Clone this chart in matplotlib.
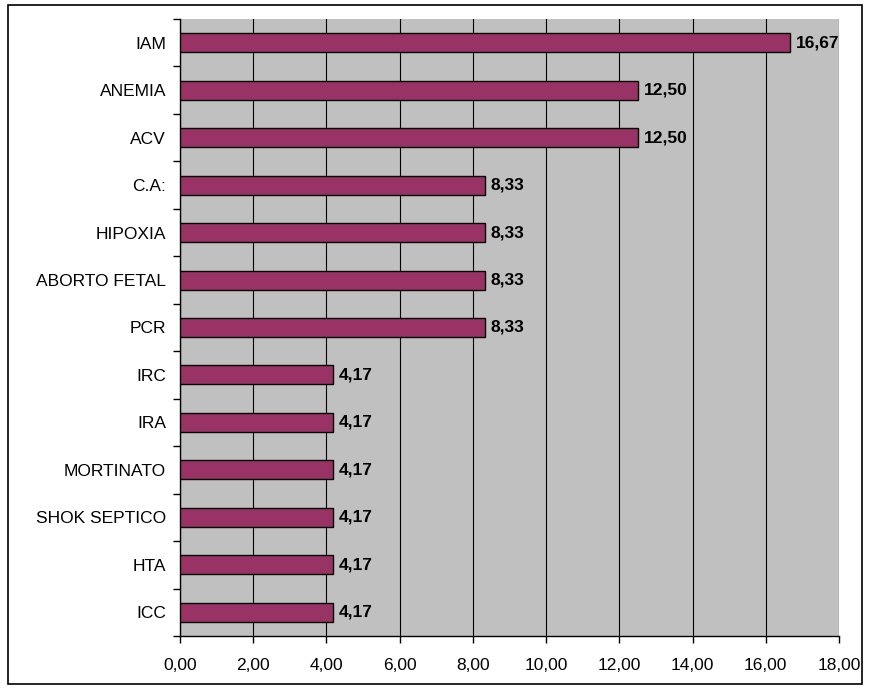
import matplotlib
matplotlib.use("Agg")
import matplotlib.pyplot as plt
from matplotlib.patches import Rectangle
import numpy as np

categories = ["IAM", "ANEMIA", "ACV", "C.A:", "HIPOXIA", "ABORTO FETAL", "PCR",
              "IRC", "IRA", "MORTINATO", "SHOK SEPTICO", "HTA", "ICC"]
values = [16.67, 12.50, 12.50, 8.33, 8.33, 8.33, 8.33,
          4.17, 4.17, 4.17, 4.17, 4.17, 4.17]
xticks = [0, 2, 4, 6, 8, 10, 12, 14, 16, 18]

plt.rcParams['font.family'] = ['Liberation Sans', 'DejaVu Sans']

fig = plt.figure(figsize=(8.7, 6.91), dpi=100)
ax = fig.add_axes([180/870, 1-636/691, (839-180)/870, (636-19)/691])
ax.set_facecolor('#C0C0C0')

n = len(categories)
ypos = np.arange(n)[::-1]
ax.barh(ypos, values, height=0.4, color='#993366', edgecolor='black', linewidth=1, zorder=3)
for y, v in zip(ypos, values):
    ax.text(v + 0.16, y, f"{v:.2f}".replace('.', ','), va='center', ha='left',
            fontsize=12.5, fontweight='bold', zorder=4)

ax.set_xlim(0, 18)
ax.set_ylim(-0.5, n - 0.5)
ax.set_xticks(xticks)
ax.set_xticklabels([f"{t:.2f}".replace('.', ',') for t in xticks], fontsize=12.5)
ax.set_yticks(ypos)
ax.set_yticklabels(categories, fontsize=12.5)
ax.tick_params(axis='y', length=0, pad=10)
ax.set_yticks(np.arange(-0.5, n, 1.0), minor=True)
ax.tick_params(axis='y', which='minor', length=5, direction='out', width=1)
ax.tick_params(axis='x', length=5, direction='out', width=1, pad=11)
ax.xaxis.grid(True, color='black', linewidth=0.8, zorder=1)
ax.set_axisbelow(True)
for s in ['top', 'right']:
    ax.spines[s].set_visible(False)
for s in ['left', 'bottom']:
    ax.spines[s].set_linewidth(1)

fig.patches.append(Rectangle((8/870, 1-684/691), 854/870, 679/691, transform=fig.transFigure,
                             fill=False, edgecolor='black', linewidth=1.2))

fig.savefig("out.png", dpi=100)
